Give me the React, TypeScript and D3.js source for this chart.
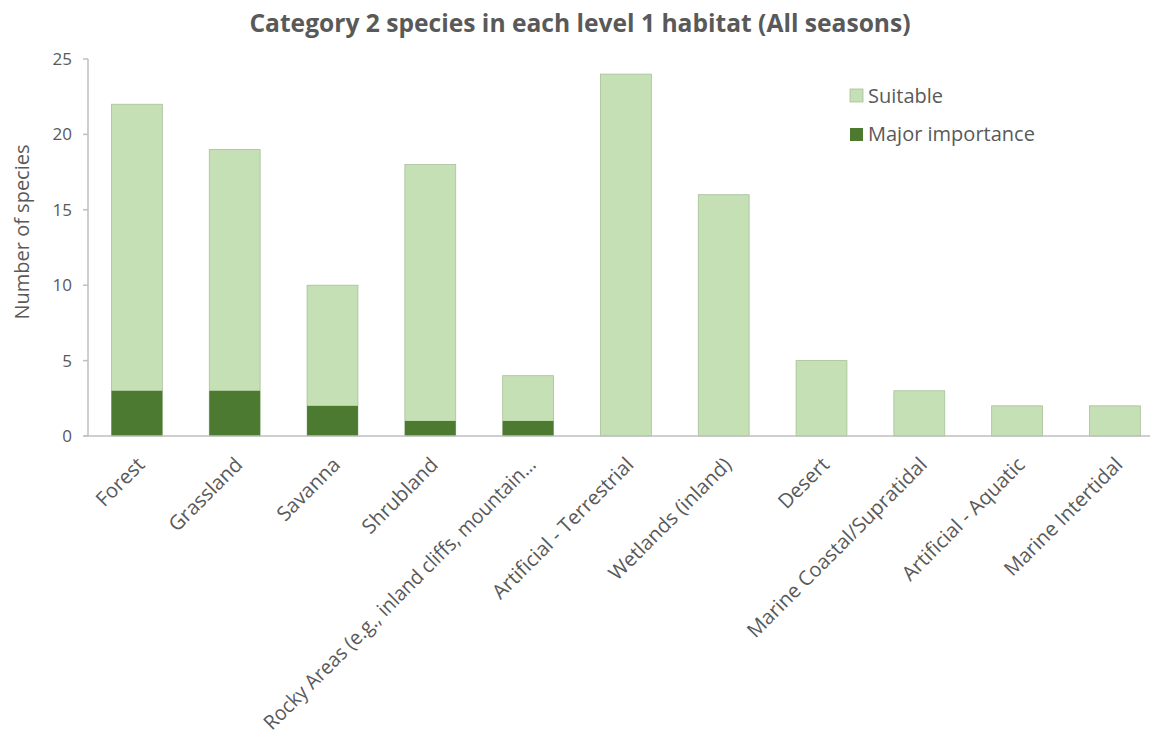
import React, { useLayoutEffect, useRef } from "react";
import * as d3 from "d3";

const categories = [
  "Forest",
  "Grassland",
  "Savanna",
  "Shrubland",
  "Rocky Areas (e.g., inland cliffs, mountain…",
  "Artificial - Terrestrial",
  "Wetlands (inland)",
  "Desert",
  "Marine Coastal/Supratidal",
  "Artificial - Aquatic",
  "Marine Intertidal",
];
const suitable = [22, 19, 10, 18, 4, 24, 16, 5, 3, 2, 2];
const majorImportance = [3, 3, 2, 1, 1, 0, 0, 0, 0, 0, 0];
const yTicks = [0, 5, 10, 15, 20, 25];

const W = 1150;
const H = 737;
const left = 88;
const top = 59;
const bottom = 436;
const bandStep = 97.8;
const labelDrop = 30;
// longest a 45° label may run before it reaches the bottom edge
const maxLabelLength = (H - 6 - (bottom + labelDrop)) / Math.SQRT1_2;

const LIGHT = "#c5e0b4";
const LIGHT_EDGE = "#a8bf9a";
const DARK = "#4d7a31";
const TEXT = "#595959";
const AXIS = "#bfbfbf";
const FONT = "'Open Sans', 'Segoe UI', sans-serif";

export default function App() {
  const labelsRef = useRef<SVGGElement>(null);

  const x = d3
    .scaleBand<string>()
    .domain(categories)
    .range([left, left + bandStep * categories.length])
    .paddingInner(0.48)
    .paddingOuter(0.24);
  const y = d3.scaleLinear().domain([0, 25]).range([bottom, top]);
  const bw = x.bandwidth();

  // squeeze any category label that would run past the bottom of the chart
  useLayoutEffect(() => {
    const fit = () => {
      if (!labelsRef.current) return;
      d3.select(labelsRef.current)
        .selectAll<SVGTextElement, unknown>("text")
        .each(function () {
          this.removeAttribute("textLength");
          const len = this.getComputedTextLength();
          if (len > maxLabelLength) {
            this.setAttribute("textLength", String(maxLabelLength));
            this.setAttribute("lengthAdjust", "spacingAndGlyphs");
          }
        });
    };
    fit();
    if (document.fonts && document.fonts.ready) document.fonts.ready.then(fit);
  }, []);

  return (
    <svg
      width={W}
      height={H}
      style={{ position: "absolute", left: 0, top: 0, background: "#fff" }}
      fontFamily={FONT}
    >
      <text
        x={580}
        y={32}
        textAnchor="middle"
        fontSize={24.6}
        fontWeight="bold"
        fill={TEXT}
      >
        Category 2 species in each level 1 habitat (All seasons)
      </text>

      {/* bars: suitable behind, major importance in front */}
      {categories.map((c, i) => (
        <g key={c}>
          <rect
            x={x(c)}
            y={y(suitable[i])}
            width={bw}
            height={y(0) - y(suitable[i])}
            fill={LIGHT}
            stroke={LIGHT_EDGE}
            strokeWidth={0.8}
          />
          {majorImportance[i] > 0 && (
            <rect
              x={x(c)}
              y={y(majorImportance[i])}
              width={bw}
              height={y(0) - y(majorImportance[i])}
              fill={DARK}
            />
          )}
        </g>
      ))}

      {/* y axis */}
      <line x1={left} x2={left} y1={top} y2={bottom} stroke={AXIS} strokeWidth={1.5} />
      {yTicks.map((t) => (
        <g key={t}>
          <line x1={left - 5} x2={left} y1={y(t)} y2={y(t)} stroke={AXIS} strokeWidth={1.5} />
          <text
            x={left - 16}
            y={y(t)}
            dy="0.35em"
            textAnchor="end"
            fontSize={17}
            fill={TEXT}
          >
            {t}
          </text>
        </g>
      ))}
      <text
        transform={`translate(22, 232) rotate(-90)`}
        textAnchor="middle"
        dy="0.35em"
        fontSize={20}
        fill={TEXT}
      >
        Number of species
      </text>

      {/* x axis */}
      <line x1={left - 4} x2={W} y1={bottom} y2={bottom} stroke={AXIS} strokeWidth={1.5} />
      <g ref={labelsRef}>
        {categories.map((c) => {
          const cx = (x(c) as number) + bw / 2;
          return (
            <text
              key={c}
              transform={`translate(${cx + 9}, ${bottom + labelDrop}) rotate(-45)`}
              textAnchor="end"
              fontSize={20.2}
              fill={TEXT}
            >
              {c}
            </text>
          );
        })}
      </g>

      {/* legend */}
      <g>
        <rect x={850} y={89} width={13} height={13} fill={LIGHT} stroke={LIGHT_EDGE} strokeWidth={0.8} />
        <text x={868} y={96} dy="0.35em" fontSize={20} fill={TEXT}>
          Suitable
        </text>
        <rect x={850} y={128} width={13} height={13} fill={DARK} />
        <text x={868} y={134} dy="0.35em" fontSize={20} fill={TEXT}>
          Major importance
        </text>
      </g>
    </svg>
  );
}
